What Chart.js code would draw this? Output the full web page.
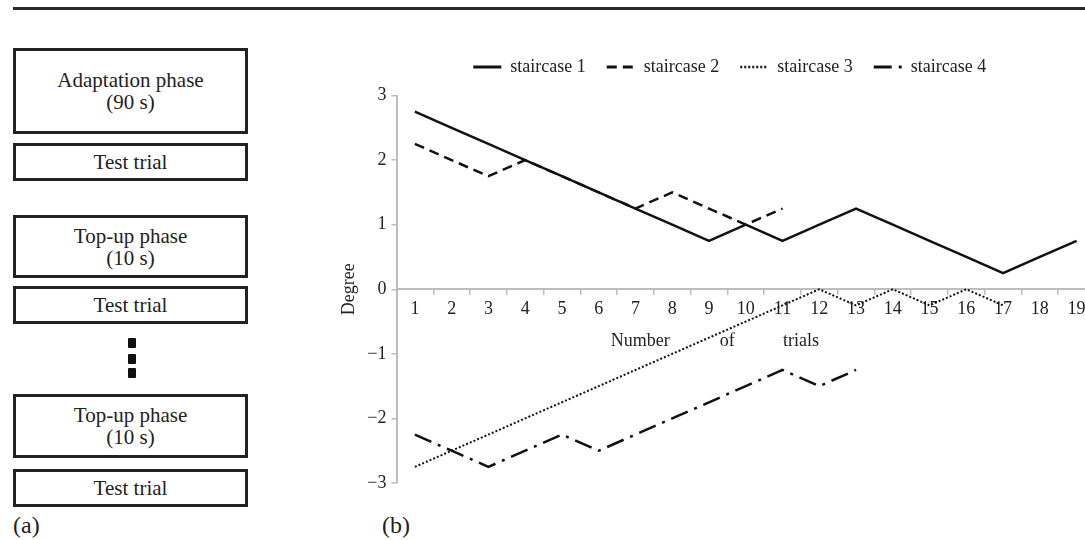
<!DOCTYPE html>
<html>
<head>
<meta charset="utf-8">
<script src="https://cdn.jsdelivr.net/npm/chart.js@4/dist/chart.umd.min.js"></script>
<style>
  body { margin: 0; background: #fff; }
  #page { position: relative; width: 1085px; height: 540px; overflow: hidden; font-family: "Liberation Serif", serif; color: #222; }
  .rule { position: absolute; left: 13px; top: 7px; width: 1072px; height: 3px; background: #2a2a2a; }
  .box { position: absolute; left: 13px; width: 235px; box-sizing: border-box; border: 3px solid #222;
         display: flex; align-items: center; justify-content: center; text-align: center; font-size: 21px; line-height: 22px; }
  .dot { position: absolute; left: 128px; width: 8px; height: 10px; background: #111; border-radius: 1px; }
  .lbl { position: absolute; top: 511px; font-size: 24px; line-height: 28px; }
  #wrap { position: absolute; left: 330px; top: 37px; width: 790px; height: 480px; }
</style>
</head>
<body>
<div id="page">
  <div class="rule"></div>
  <div class="box" style="top:48px;height:86px">Adaptation phase<br>(90 s)</div>
  <div class="box" style="top:143px;height:38px">Test trial</div>
  <div class="box" style="top:215px;height:63px">Top-up phase<br>(10 s)</div>
  <div class="box" style="top:286px;height:38px">Test trial</div>
  <div class="dot" style="top:338px"></div>
  <div class="dot" style="top:354px"></div>
  <div class="dot" style="top:368px"></div>
  <div class="box" style="top:394px;height:64px">Top-up phase<br>(10 s)</div>
  <div class="box" style="top:469px;height:38px">Test trial</div>
  <div class="lbl" style="left:13px">(a)</div>
  <div class="lbl" style="left:382px">(b)</div>
  <div id="wrap"><canvas id="staircase-chart" width="790" height="480"></canvas></div>
</div>
<script>
// trial numbers on the x axis
var trials = ["1", "2", "3", "4", "5", "6", "7", "8", "9", "10", "11", "12", "13", "14", "15", "16", "17", "18", "19"];

// degree per trial for each staircase
var staircase1 = [2.75, 2.5, 2.25, 2.0, 1.75, 1.5, 1.25, 1.0, 0.75, 1.0, 0.75, 1.0, 1.25, 1.0, 0.75, 0.5, 0.25, 0.5, 0.75];
var staircase2 = [2.25, 2.0, 1.75, 2.0, 1.75, 1.5, 1.25, 1.5, 1.25, 1.0, 1.25];
var staircase3 = [-2.75, -2.5, -2.25, -2.0, -1.75, -1.5, -1.25, -1.0, -0.75, -0.5, -0.25, 0, -0.25, 0, -0.25, 0, -0.25];
var staircase4 = [-2.25, -2.5, -2.75, -2.5, -2.25, -2.5, -2.25, -2.0, -1.75, -1.5, -1.25, -1.5, -1.25];

// y tick labels
var yTickValues = [-3, -2, -1, 0, 1, 2, 3];
var yTickLabels = ["\u22123", "\u22122", "\u22121", "0", "1", "2", "3"];

var serif = "Liberation Serif";
var ink = "#111";
var axisGrey = "#bdbdbd";

Chart.defaults.font.family = serif;
Chart.defaults.color = "#222";

// words of the x axis title sit spread out under the tick labels
var xTitlePlugin = {
    id: "xTitle",
    afterDraw: function(chart) {
        var ctx = chart.ctx;
        var x = chart.scales.x;
        var y = chart.scales.y.getPixelForValue(0) + 52;
        ctx.save();
        ctx.font = "18px " + serif;
        ctx.fillStyle = "#222";
        ctx.textAlign = "center";
        ctx.textBaseline = "middle";
        ctx.fillText("Number", x.getPixelForValue(6.13), y);
        ctx.fillText("of", x.getPixelForValue(8.5), y);
        ctx.fillText("trials", x.getPixelForValue(10.5), y);
        ctx.restore();
    }
};

// a bit more room under the legend, and shift it a little left
var legendSpacing = {
    id: "legendSpacing",
    beforeInit: function(chart) {
        var fit = chart.legend.fit;
        chart.legend.fit = function() {
            fit.call(this);
            this.height += 9.5;
        };
    },
    afterLayout: function(chart) {
        chart.legend.left -= 16;
        chart.legend.right -= 16;
    }
};

new Chart(document.getElementById("staircase-chart"), {
    type: 'line',
    data: {
        labels: trials,
        datasets: [
            {
                label: "staircase 1",
                data: staircase1,
                borderColor: ink,
                backgroundColor: ink,
                borderWidth: 2.5
            },
            {
                label: "staircase 2",
                data: staircase2,
                borderColor: ink,
                backgroundColor: ink,
                borderWidth: 2.5,
                borderDash: [10, 6]
            },
            {
                label: "staircase 3",
                data: staircase3,
                borderColor: ink,
                backgroundColor: ink,
                borderWidth: 2,
                borderDash: [2, 2]
            },
            {
                label: "staircase 4",
                data: staircase4,
                borderColor: ink,
                backgroundColor: ink,
                borderWidth: 2.5,
                borderDash: [18, 7, 3, 7]
            }
        ]
    },
    options: {
        responsive: false,
        animation: false,
        devicePixelRatio: 1,
        layout: { padding: { top: 0, right: 25, bottom: 34, left: 0 } },
        elements: {
            point: { radius: 0 },
            line: { tension: 0 }
        },
        plugins: {
            tooltip: { enabled: false },
            legend: {
                display: true,
                position: 'top',
                fullSize: false,
                labels: {
                    usePointStyle: true,
                    pointStyle: 'line',
                    pointStyleWidth: 28,
                    padding: 21,
                    color: "#222",
                    font: { family: serif, size: 18 },
                    generateLabels: function(chart) {
                        var items = Chart.defaults.plugins.legend.labels.generateLabels(chart);
                        items.forEach(function(item) {
                            var ds = chart.data.datasets[item.datasetIndex];
                            item.lineDash = ds.borderDash || [];
                            item.lineWidth = ds.borderWidth + 0.5;
                            item.strokeStyle = ds.borderColor;
                        });
                        return items;
                    }
                }
            }
        },
        scales: {
            x: {
                type: 'category',
                position: { y: 0 },
                offset: true,
                grid: { drawOnChartArea: false, offset: true, tickLength: 5, color: axisGrey, lineWidth: 1.5 },
                border: { color: axisGrey, width: 2 },
                ticks: { autoSkip: false, maxRotation: 0, padding: 4, color: "#222", font: { family: serif, size: 18 } }
            },
            y: {
                min: -3,
                max: 3,
                afterFit: function(scale) { scale.width = 66.5; },
                afterBuildTicks: function(scale) {
                    scale.ticks = yTickValues.map(function(v) { return { value: v }; });
                },
                grid: { drawOnChartArea: false, tickLength: 5, color: axisGrey, lineWidth: 1.5 },
                border: { color: axisGrey, width: 2 },
                ticks: {
                    padding: 5,
                    color: "#222",
                    font: { family: serif, size: 18 },
                    callback: function(value) { return yTickLabels[yTickValues.indexOf(value)]; }
                },
                title: {
                    display: true,
                    text: "Degree",
                    color: "#222",
                    font: { family: serif, size: 18 },
                    padding: { top: 8, bottom: 0 }
                }
            }
        }
    },
    plugins: [xTitlePlugin, legendSpacing]
});
</script>
</body>
</html>
